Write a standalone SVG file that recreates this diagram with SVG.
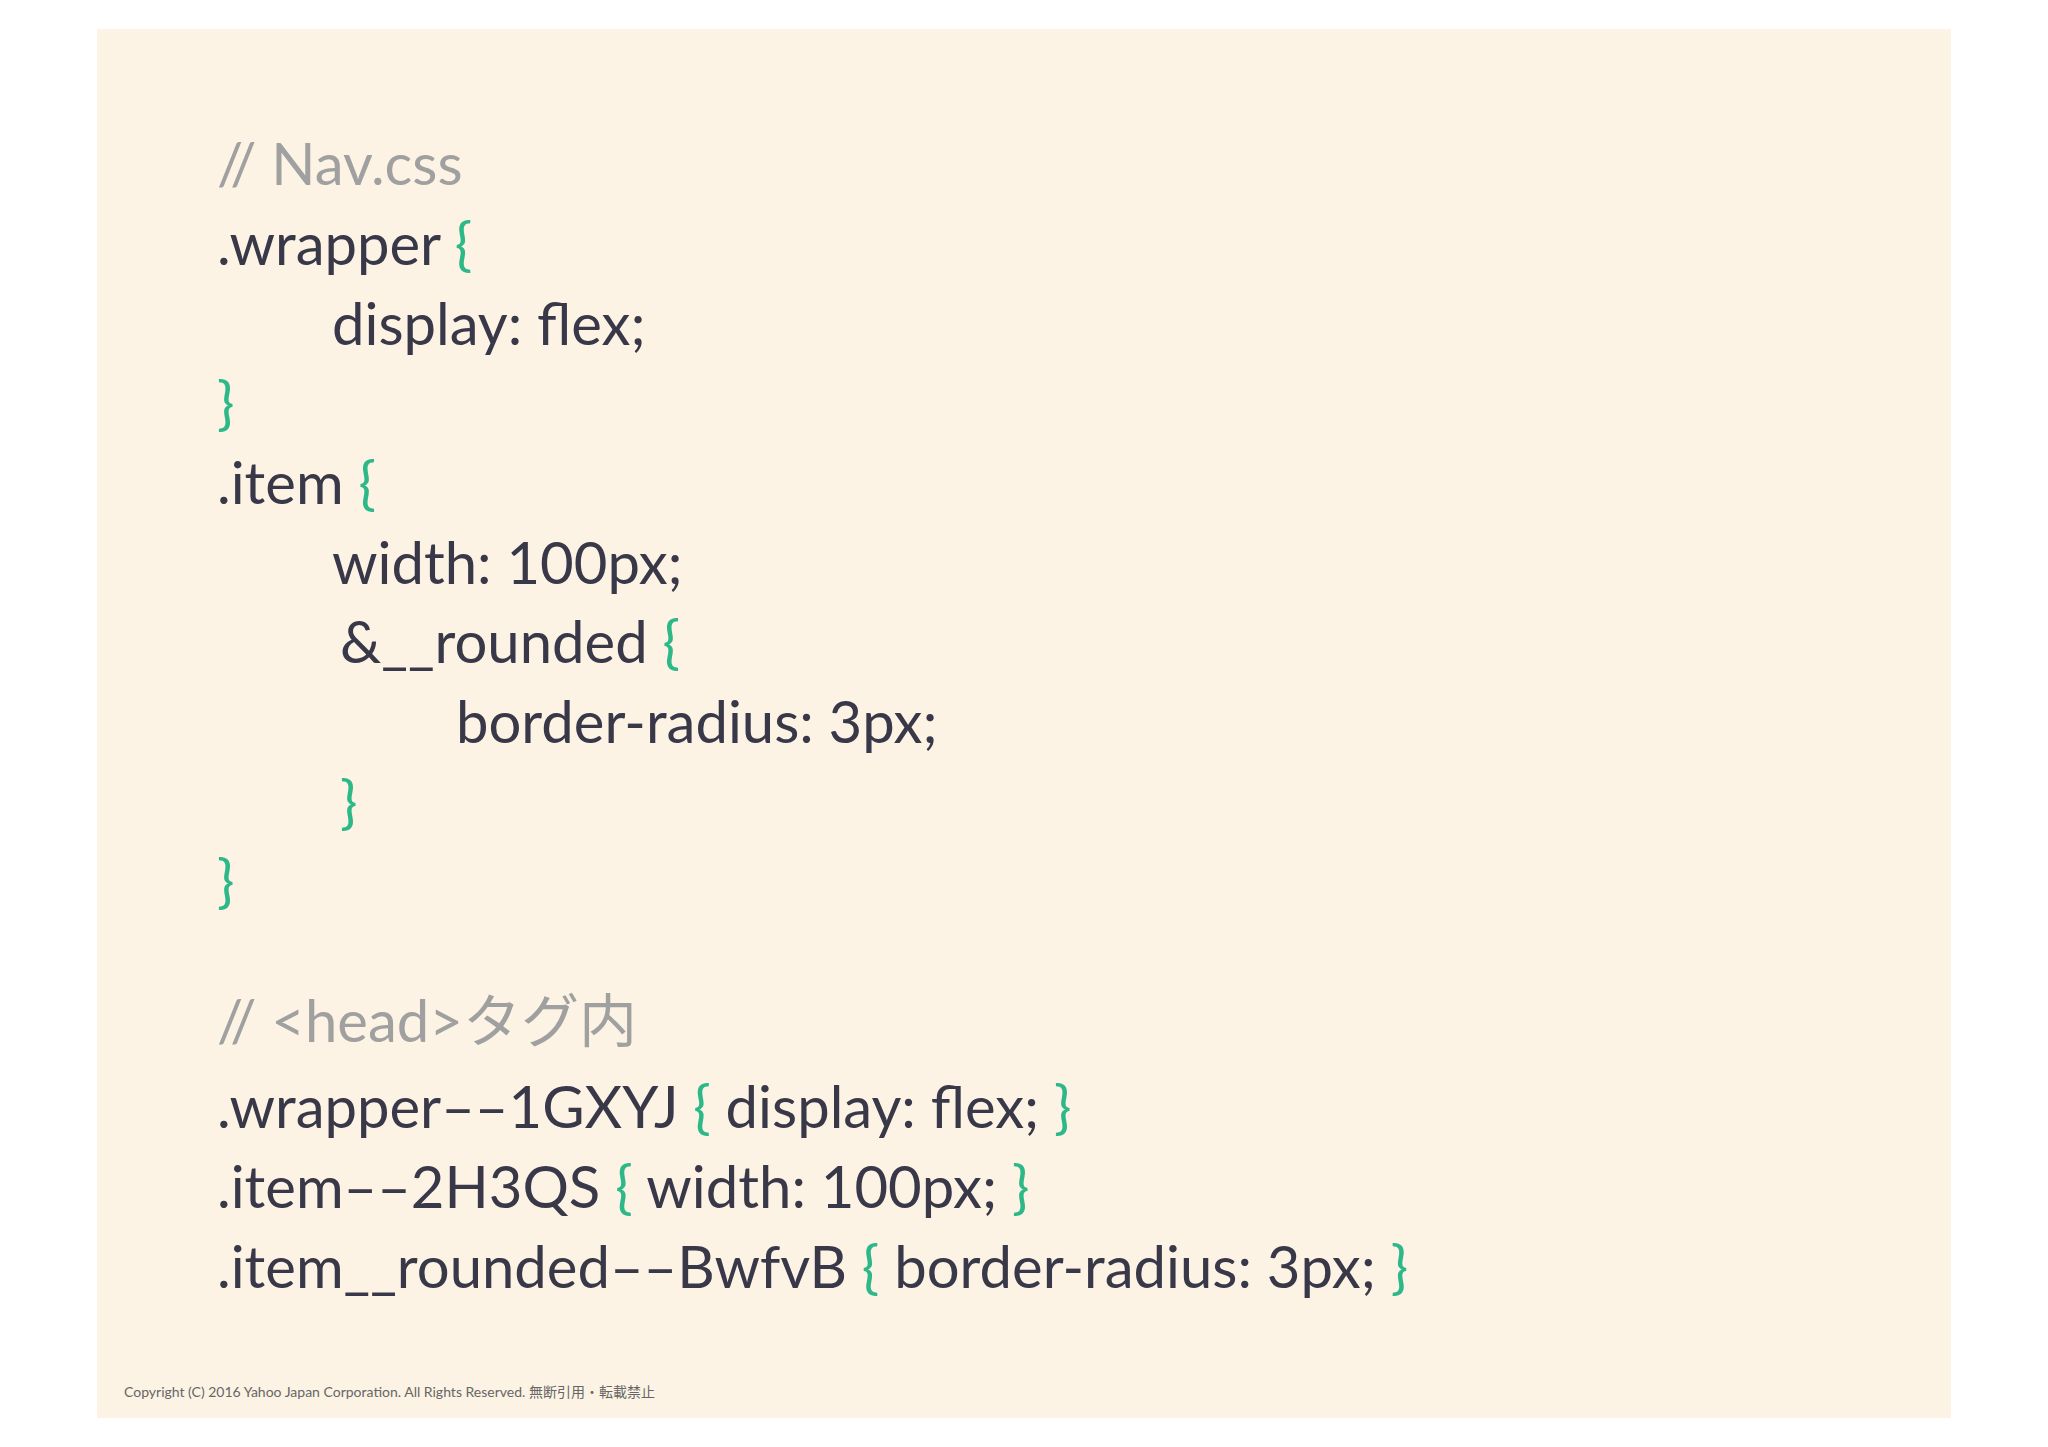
<svg xmlns="http://www.w3.org/2000/svg" width="2048" height="1447" viewBox="0 0 2048 1447">
<style>
text{font-family:Lato,"Noto Sans CJK JP",sans-serif;font-size:58px;fill:#383849}
.c{fill:#a0a0a0}
.b{fill:#2db88a}
.f{font-size:14px;fill:#666}
</style>
<rect width="2048" height="1447" fill="#ffffff"/>
<rect x="97" y="29" width="1854" height="1389" fill="#fcf3e4"/>
<g id="code">
<text class="c" x="217" y="185">// Nav.css</text>
<text x="217" y="265">.wrapper <tspan class="b">{</tspan></text>
<text x="332" y="345">display: flex;</text>
<text class="b" x="217" y="424">}</text>
<text x="217" y="504">.item <tspan class="b">{</tspan></text>
<text x="332" y="584">width: 100px;</text>
<text x="340" y="663">&amp;__rounded <tspan class="b">{</tspan></text>
<text x="456" y="743">border-radius: 3px;</text>
<text class="b" x="340" y="823">}</text>
<text class="b" x="217" y="902">}</text>
<text class="c" x="217" y="1042">// &lt;head&gt;タグ内</text>
<text x="217" y="1128">.wrapper––1GXYJ <tspan class="b">{</tspan> display: flex; <tspan class="b">}</tspan></text>
<text x="217" y="1208">.item––2H3QS <tspan class="b">{</tspan> width: 100px; <tspan class="b">}</tspan></text>
<text x="217" y="1288">.item__rounded––BwfvB <tspan class="b">{</tspan> border-radius: 3px; <tspan class="b">}</tspan></text>
</g>
<text class="f" x="124" y="1397">Copyright (C) 2016 Yahoo Japan Corporation. All Rights Reserved. 無断引用・転載禁止</text>
</svg>
